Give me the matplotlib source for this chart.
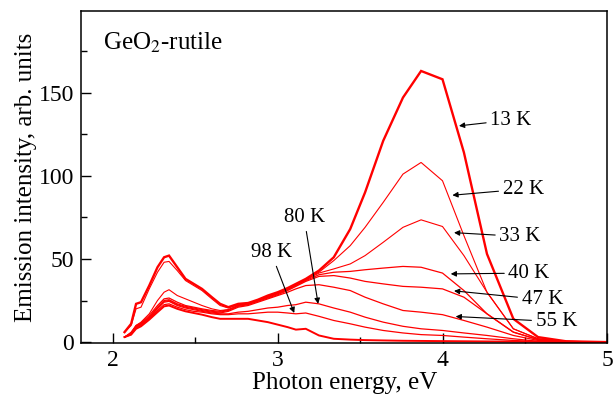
import numpy as np
import matplotlib
matplotlib.use("Agg")
import matplotlib.pyplot as plt

plt.rcParams["font.family"] = ["Liberation Serif", "DejaVu Serif"]
plt.rcParams["mathtext.fontset"] = "stix"

# photon energy grid, eV
energy = [2.07, 2.11, 2.14, 2.17, 2.22, 2.27, 2.31, 2.34, 2.39, 2.44, 2.49, 2.54,
          2.60, 2.65, 2.70, 2.76, 2.82, 2.88, 2.94, 3.00, 3.06, 3.11, 3.17, 3.25,
          3.34, 3.44, 3.53, 3.64, 3.76, 3.87, 4.00, 4.13, 4.27, 4.43, 4.58, 4.75, 5.00]

k13 = [6, 11, 23, 24, 34, 45, 51, 52, 45, 38, 35, 32,
       27, 23, 21, 23, 23.5, 25.5, 28, 30, 32.5, 35, 38, 43,
       51, 68, 90, 121, 147, 163, 158, 114, 53, 14, 3, 0.5, 0]
k22 = [6, 10, 20, 21, 32, 42, 48, 48.5, 43, 37, 34, 31,
       26, 22, 20.5, 22.5, 23, 25, 27.5, 29.5, 32, 34.5, 37.5, 42,
       49, 58, 69, 84, 101, 108, 97, 64, 30, 8, 2, 0.5, 0]
k33 = [3, 6, 10, 12, 17, 25, 30, 31.5, 28, 26, 24, 22,
       20, 19, 19.5, 22, 23, 25, 27, 29.5, 32, 34.5, 37.5, 41.5,
       44, 47, 52, 60, 69, 73.5, 69.5, 52, 30, 8, 2, 0.5, 0]
k40 = [3, 5.5, 10, 11.5, 16, 22, 26, 26.5, 24, 22, 21, 20,
       19, 18.5, 19.5, 22, 23, 25, 27, 29, 31.5, 34, 37, 40.5,
       42, 42.5, 43.5, 44.5, 45.5, 45, 41.5, 31, 17, 6, 1.5, 0.3, 0]
k47 = [3, 5, 9.5, 11, 15, 21, 25, 25.5, 23, 21.5, 20.5, 19.5,
       18.5, 18, 19, 21.5, 22.5, 24.5, 26.5, 28.5, 31, 33.5, 36.5, 39.5,
       40, 38.5, 36.5, 35, 33.5, 33, 32, 27, 17, 6, 1.5, 0.3, 0]
k55 = [3, 5, 9.5, 11, 15, 20.5, 24.5, 25, 22.5, 21, 20, 19,
       18, 17.5, 18.5, 21, 22, 24, 26, 28, 30, 32, 34, 34.5,
       33, 31, 27, 23, 19, 18, 16.5, 13, 9, 4, 1, 0.2, 0]
k80 = [3, 5, 9, 10.5, 14.5, 20, 24, 24.5, 22, 20.5, 19.5, 18.5,
       17.5, 17, 17, 18, 18.5, 19.5, 20.5, 21, 22, 22.5, 24, 23,
       20.5, 18, 15, 12, 9.5, 8, 7, 5.5, 4, 2, 0.5, 0.1, 0]
k98 = [3, 4.5, 8.5, 10, 14, 19, 22.5, 23, 21, 19.5, 18.5, 18,
       17, 16.5, 16.5, 17, 17, 17.5, 18, 18, 17.5, 17, 17.5, 15.5,
       13, 11, 9, 7, 5.5, 4.5, 4, 3, 2, 1, 0.3, 0, 0]
k_low = [3, 4.5, 8, 9.5, 13.5, 18, 21.5, 22, 20, 18.5, 17.5, 16.5,
         15, 14, 14, 14, 14, 13, 12, 10.5, 9, 7.5, 8, 4,
         2, 1.5, 1.2, 1, 0.8, 0.7, 0.6, 0.5, 0.4, 0.3, 0.2, 0, 0]

curves = [k13, k22, k33, k40, k47, k55, k80, k98, k_low]
widths = [1.7, 0.8, 0.8, 0.9, 0.9, 0.9, 0.9, 0.9, 1.4]

labels = ["13 K", "22 K", "33 K", "40 K", "47 K", "55 K", "80 K", "98 K"]
label_xy = [(4.29, 133.5), (4.365, 92), (4.345, 63.5), (4.40, 41.5),
            (4.48, 25.5), (4.565, 12.3), (3.16, 69), (2.96, 48)]
tip_xy = [(4.10, 130), (4.06, 88.3), (4.07, 65.8), (4.05, 41),
          (4.07, 30.8), (4.08, 15.4), (3.245, 23), (3.10, 17.5)]

fig = plt.figure(figsize=(6.14, 3.96), dpi=100)
ax = fig.add_axes([0.132, 0.134, 0.857, 0.838])

for y, lw in zip(curves, widths):
    ax.plot(energy, y, color="#ff0000", lw=lw, solid_joinstyle="miter")

# labels with arrows
for i in range(len(labels)):
    if i < 6:
        ha, va = "left", "center"
    else:
        ha, va = "center", "bottom"
    ax.annotate(labels[i], xy=tip_xy[i], xytext=label_xy[i],
                fontsize=15, ha=ha, va=va,
                arrowprops=dict(arrowstyle="-|>", color="black", lw=0.8,
                                mutation_scale=8, shrinkA=1, shrinkB=0))

ax.text(0.042, 0.905, "GeO$_2$-rutile", transform=ax.transAxes,
        fontsize=18, ha="left", va="center")

ax.set_xlim(1.806, 5.0)
ax.set_ylim(-0.5, 199)
ax.set_xticks([2, 3, 4, 5])
ax.set_xticks([2.5, 3.5, 4.5], minor=True)
ax.set_yticks([0, 50, 100, 150])
ax.set_yticks([25, 75, 125, 175], minor=True)
ax.tick_params(which="both", direction="in", labelsize=17, width=1)
ax.tick_params(which="major", length=7.5, pad=5)
ax.tick_params(which="minor", length=4.5)
for s in ax.spines.values():
    s.set_linewidth(1.1)

ax.set_xlabel("Photon energy, eV", fontsize=18, labelpad=1)
ax.set_ylabel("Emission intensity, arb. units", fontsize=18, labelpad=1)

fig.savefig("out.png", dpi=100)
